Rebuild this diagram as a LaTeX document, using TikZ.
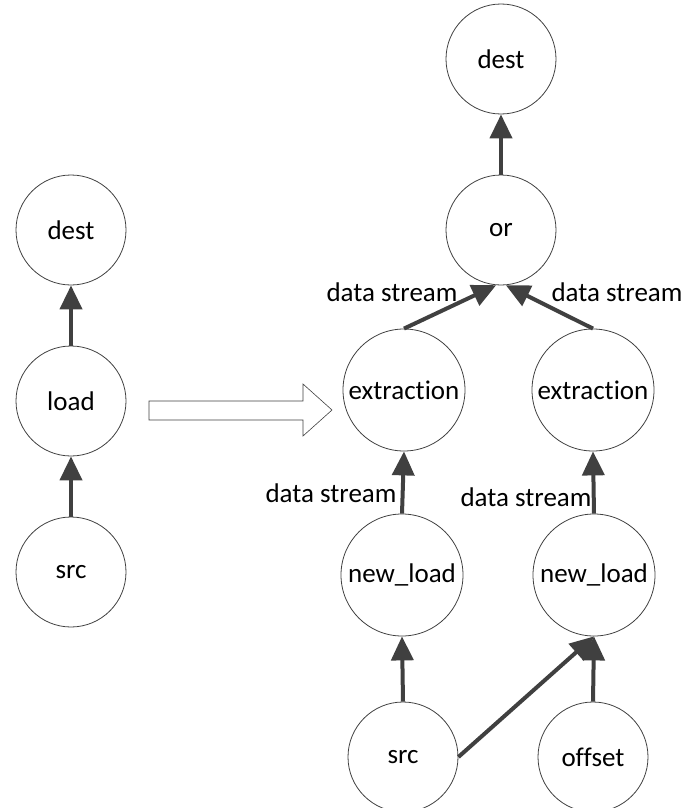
\documentclass[tikz,border=0pt]{standalone}
\usepackage{fontspec}
\setmainfont{Carlito}[Ligatures=NoCommon]
\usetikzlibrary{arrows.meta}
\definecolor{edgegray}{HTML}{404040}
\begin{document}
\begin{tikzpicture}[x=1pt,y=-1pt,
  every node/.style={font=\fontsize{27}{32}\selectfont},
  op/.style={circle,draw=edgegray,line width=0.8pt,minimum size=110pt,inner sep=0pt},
  bigop/.style={op,minimum size=122pt},
  flow/.style={draw=edgegray,line width=4pt,-{Triangle[length=24pt,width=22pt]}},
  lbl/.style={inner sep=0pt}]
\useasboundingbox (0,0) rectangle (686,808);

% single-load graph
\node[op] (ldest) at (71,230) {dest};
\node[op] (lload) at (71,401) {load};
\node[op] (lsrc)  at (71,572) {src};
\draw[flow] (lsrc.north) -- (lload.south);
\draw[flow] (lload.north) -- (ldest.south);

% transformation arrow
\draw[draw=edgegray,line width=0.6pt,fill=white]
  (149,401) -- (303,401) -- (303,384) -- (332,410) -- (303,436) -- (303,420) -- (149,420) -- cycle;

% rewritten graph
\node[op] (rdest) at (501,59) {dest};
\node[op] (ror)   at (501,230) {or};
\node[bigop] (ex1) at (404,390) {extraction};
\node[bigop] (ex2) at (593,390) {extraction};
\node[bigop] (nl1) at (402,575) {new\_load};
\node[bigop] (nl2) at (594,575) {new\_load};
\node[op] (rsrc) at (403,757) {src};
\node[op] (off)  at (593,757) {offset};

\draw[flow] (ror.north) -- (rdest.south);
\draw[flow] (ex1.north) -- (ror.265);
\draw[flow] (ex2.north) -- (ror.275);
\draw[flow] (nl1.north) -- (ex1.south);
\draw[flow] (nl2.north) -- (ex2.south);
\draw[flow] (rsrc.north) -- (nl1.south);
\draw[flow] (off.north) -- (nl2.south);
\draw[flow] (rsrc.east) -- (nl2.south);

\node[lbl] (d1) at (392,292) {data stream};
\node[lbl] (d2) at (617,292) {data stream};
\node[lbl] (d3) at (331,493) {data stream};
\node[lbl] (d4) at (526,497) {data stream};
\end{tikzpicture}
\end{document}
